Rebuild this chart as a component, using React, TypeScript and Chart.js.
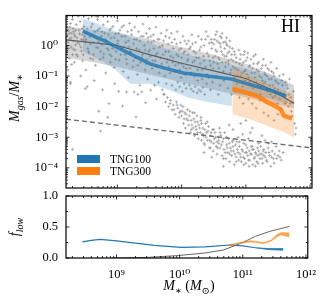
import React, { useEffect, useRef } from 'react';
import { Chart, registerables } from 'chart.js';
Chart.register(...registerables);

const SERIF = "'Liberation Serif', 'DejaVu Serif', serif";

// ---- axes (log10 where noted) ----
const xRangeLog = [8.2, 12.03];
const yRangeLog = [-4.66, 0.98];
const xTickLogs = [9, 10, 11, 12];
const xTickLabels = ['10⁹', '10¹⁰', '10¹¹', '10¹²'];
const yTickLogs = [-4, -3, -2, -1, 0];
const yTickLabels = ['10⁻⁴', '10⁻³', '10⁻²', '10⁻¹', '10⁰'];
const fTicks = [0, 0.5, 1];
const fTickLabels = ['0.0', '0.5', '1.0'];
const fMinorTicks = [0.25, 0.75];

// ---- scatter: [log10 M*, log10 Mgas/M*] ----
const scatterUpper: [number, number][] = [
  [8.21,0.62],[8.22,0.35],[8.23,0.1],[8.22,-0.2],[8.24,0.48],[8.25,-0.42],[8.26,0.22],[8.27,0.72],[8.28,-0.05],[8.29,0.4],[8.3,-0.3],[8.31,0.55],[8.32,0.15],[8.33,-0.55],[8.34,0.3],[8.35,0.02],[8.23,-0.8],[8.27,-1.2],[8.3,0.85],[8.34,-0.15],[8.26,0.6],[8.32,0.45],[8.29,-0.62],[8.36,0.68],
  [8.37,0.25],[8.38,-0.35],[8.4,0.5],[8.41,0.05],[8.42,0.78],[8.44,-0.18],[8.45,0.35],[8.46,-0.5],[8.48,0.62],[8.5,0.12],[8.51,-0.8],[8.52,0.42],[8.54,-0.1],[8.55,0.88],[8.57,0.28],[8.58,-0.42],[8.59,0.6],[8.43,-1.0],[8.53,-1.35],[8.39,0.95],[8.47,0.18],[8.56,-0.25],
  [8.61,0.7],[8.62,0.1],[8.63,-0.3],[8.65,0.45],[8.66,-0.65],[8.68,0.22],[8.69,0.85],[8.7,-0.08],[8.72,0.55],[8.73,-0.45],[8.75,0.3],[8.76,0.02],[8.78,0.68],[8.79,-0.28],[8.8,0.4],[8.82,-0.9],[8.83,0.15],[8.85,0.78],[8.86,-0.15],[8.88,0.5],[8.89,-0.55],[8.64,-1.15],[8.77,-1.45],[8.71,-2.15],[8.74,-2.8],[8.87,-1.9],[8.67,0.95],[8.3,-3.4],[8.85,-2.35],[8.27,-1.25],[8.5,-1.41],
  [8.9,0.25],[8.91,-0.35],[8.93,0.62],[8.94,0.0],[8.95,-0.72],[8.97,0.38],[8.98,-0.2],[9.0,0.8],[9.01,0.15],[9.03,-0.48],[9.04,0.5],[9.06,-0.1],[9.07,0.3],[9.09,-0.85],[9.1,0.65],[9.12,-0.3],[9.13,0.1],[9.15,-0.6],[9.16,0.45],[9.18,-0.05],[9.19,0.72],[9.02,-1.5],[9.08,-1.98],[9.14,-1.52],[8.96,-1.25],[9.17,-1.05],
  [9.21,-0.25],[9.22,0.35],[9.24,-0.7],[9.25,0.05],[9.27,0.6],[9.28,-0.4],[9.3,0.2],[9.31,-0.95],[9.33,0.45],[9.34,-0.15],[9.36,-0.55],[9.37,0.3],[9.39,-0.3],[9.4,0.7],[9.42,0.0],[9.43,-0.8],[9.45,0.4],[9.46,-0.45],[9.48,0.12],[9.49,-0.2],[9.26,-1.52],[9.32,-1.6],[9.38,-1.52],[9.44,-1.87],[9.29,-2.34],[9.35,-1.3],[9.47,-1.1],
  [9.5,0.55],[9.51,-0.35],[9.53,0.1],[9.54,-0.75],[9.56,0.35],[9.57,-0.1],[9.59,-0.5],[9.6,0.6],[9.62,-0.25],[9.63,0.2],[9.65,-0.9],[9.66,-0.05],[9.68,0.4],[9.69,-0.6],[9.71,-0.3],[9.72,0.15],[9.74,-1.0],[9.75,-0.2],[9.77,0.5],[9.78,-0.45],[9.79,0.05],[9.52,-1.46],[9.58,-1.3],[9.64,-1.2],[9.7,-1.45],[9.76,-1.25],[9.61,-1.75],[9.73,-1.6],
  [9.8,-0.7],[9.81,0.25],[9.83,-0.35],[9.84,0.4],[9.86,-0.55],[9.87,-0.1],[9.89,0.2],[9.9,-0.85],[9.92,-0.3],[9.93,0.45],[9.95,-0.6],[9.96,-0.15],[9.98,0.1],[9.99,-1.05],[10.0,-0.4],[10.02,0.3],[10.03,-0.7],[10.05,-0.2],[10.06,-0.95],[10.08,0.05],[10.09,-0.5],[9.85,-1.3],[9.91,-1.45],[9.97,-1.35],[10.01,-1.5],[10.04,-1.25],[10.07,-1.4],[9.94,-1.2],
  [10.1,-0.3],[10.11,0.15],[10.13,-0.75],[10.14,-0.05],[10.16,0.35],[10.17,-0.55],[10.19,-0.2],[10.2,-1.0],[10.22,0.1],[10.23,-0.4],[10.25,-0.8],[10.26,0.3],[10.28,-0.15],[10.29,-0.6],[10.31,0.2],[10.32,-1.1],[10.34,-0.35],[10.35,0.0],[10.37,-0.7],[10.38,0.45],[10.12,-1.3],[10.15,-1.42],[10.18,-1.5],[10.21,-1.35],[10.24,-1.55],[10.27,-1.45],[10.3,-1.5],[10.33,-1.38],[10.36,-1.6],[10.39,-1.25],
  [10.4,-0.25],[10.41,0.3],[10.43,0.08],[10.44,-0.5],[10.46,0.2],[10.47,-0.1],[10.49,-0.75],[10.5,0.05],[10.52,-0.35],[10.53,0.35],[10.55,-0.2],[10.56,-0.6],[10.58,0.1],[10.59,-0.45],[10.61,-0.05],[10.62,0.25],[10.64,-0.3],[10.65,-0.85],[10.67,-0.1],[10.68,0.12],[10.69,-0.55],[10.42,-1.05],[10.48,-1.2],[10.54,-1.0],[10.6,-1.3],[10.66,-1.15],[10.45,-1.45],[10.57,-1.6],[10.63,0.4],
  [10.7,-0.35],[10.71,0.0],[10.73,-0.6],[10.74,-0.2],[10.76,-0.9],[10.77,-0.45],[10.79,-0.1],[10.8,-0.7],[10.82,-1.05],[10.83,-0.3],[10.85,-0.55],[10.86,-1.25],[10.88,-0.8],[10.89,-0.15],[10.91,-0.45],[10.92,-1.0],[10.94,-0.65],[10.95,-1.35],[10.97,-0.3],[10.98,-0.85],[10.99,-1.15],[10.72,-1.4],[10.78,-1.6],[10.84,-1.5],[10.9,-1.7],[10.96,-1.9],
  [11.0,-0.5],[11.02,-0.95],[11.03,-0.25],[11.05,-0.7],[11.06,-1.2],[11.08,-0.45],[11.09,-0.9],[11.11,-1.4],[11.12,-0.6],[11.14,-1.05],[11.15,-0.3],[11.17,-0.8],[11.18,-1.3],[11.2,-0.55],[11.21,-1.0],[11.23,-1.6],[11.24,-0.75],[11.26,-1.15],[11.27,-0.45],[11.29,-0.9],[11.04,-1.75],[11.1,-1.9],[11.16,-2.05],[11.22,-1.8],[11.28,-2.2],
  [11.3,-1.2],[11.31,-0.65],[11.33,-1.0],[11.34,-1.5],[11.36,-0.8],[11.37,-1.3],[11.39,-0.55],[11.4,-1.1],[11.42,-1.7],[11.43,-0.9],[11.45,-1.4],[11.46,-1.15],[11.48,-0.75],[11.49,-1.9],[11.51,-1.25],[11.52,-1.0],[11.54,-1.55],[11.55,-2.1],[11.57,-1.3],[11.58,-0.95],[11.35,-2.3],[11.44,-2.45],[11.5,-2.25],
  [11.6,-1.6],[11.62,-1.2],[11.63,-1.85],[11.65,-1.4],[11.66,-2.0],[11.68,-1.1],[11.7,-1.7],[11.72,-2.3],[11.74,-1.5],[11.76,-2.55],[11.78,-2.7],[11.77,-2.9],[11.71,-2.15]
];

const scatterUpperCore: [number, number][] = [
  [8.21,0.15],[8.24,-0.1],[8.26,0.4],[8.28,0.25],[8.31,-0.12],[8.33,0.35],[8.36,-0.3],[8.38,0.1],[8.41,0.38],[8.43,-0.05],[8.45,0.55],[8.47,-0.3],[8.49,0.3],[8.22,0.52],[8.35,0.5],[8.44,0.2],
  [8.51,0.2],[8.53,0.55],[8.55,-0.2],[8.58,0.05],[8.6,0.35],[8.62,-0.45],[8.64,0.28],[8.67,-0.05],[8.69,0.5],[8.71,0.12],[8.74,-0.2],[8.76,0.45],[8.78,-0.4],[8.81,0.2],[8.84,-0.1],[8.86,0.35],[8.88,-0.3],[8.9,0.55],[8.93,-0.1],[8.95,0.25],[8.97,-0.45],
  [9.0,0.05],[9.02,0.4],[9.05,-0.3],[9.07,0.6],[9.1,-0.05],[9.12,0.3],[9.14,-0.45],[9.17,0.15],[9.2,-0.2],[9.22,0.5],[9.25,-0.5],[9.27,0.2],[9.3,-0.1],[9.32,-0.65],[9.35,0.15],[9.38,-0.4],[9.4,0.3],[9.43,-0.15],[9.45,-0.6],[9.48,0.25],
  [9.5,-0.15],[9.52,0.3],[9.55,-0.5],[9.57,0.15],[9.6,-0.3],[9.62,-0.7],[9.65,0.2],[9.67,-0.4],[9.7,0.0],[9.72,-0.75],[9.75,0.3],[9.77,-0.55],[9.8,-0.2],[9.82,-0.9],[9.85,0.1],[9.87,-0.4],[9.9,-0.65],[9.92,0.05],[9.95,-0.35],[9.97,-0.8],[9.99,-0.1],
  [10.0,-0.6],[10.03,-0.25],[10.05,0.15],[10.07,-0.75],[10.1,-0.45],[10.12,-0.1],[10.15,-0.9],[10.17,0.05],[10.2,-0.5],[10.22,-0.25],[10.25,-1.15],[10.27,-0.4],[10.3,-0.05],[10.32,-0.8],[10.35,-0.5],[10.37,0.2],[10.4,-0.95],[10.42,-0.35],[10.45,-0.65],[10.47,0.1],[10.49,-0.4],
  [10.5,-0.55],[10.51,0.2],[10.53,-0.15],[10.55,0.15],[10.57,-0.4],[10.58,-0.75],[10.6,0.05],[10.62,-0.2],[10.63,-0.55],[10.65,0.1],[10.67,-0.35],[10.68,-0.7],[10.7,0.05],[10.72,-0.25],[10.73,-0.5],[10.75,-0.05],[10.77,-0.8],[10.78,-0.3],[10.8,-0.5],[10.82,-0.2],[10.84,-0.75],[10.85,-0.4],[10.87,-1.0],[10.9,-0.6],[10.92,-0.3],[10.94,-0.9],[10.96,-0.55],[10.98,-0.2],[10.55,0.45],[10.6,0.3],[10.7,0.25],[10.75,0.15],
  [11.0,-0.8],[11.02,-0.4],[11.04,-1.05],[11.06,-0.65],[11.08,-1.3],[11.1,-0.75],[11.12,-0.35],[11.14,-0.9],[11.16,-1.2],[11.18,-0.6],[11.2,-0.85],[11.22,-1.35],[11.24,-1.05],[11.26,-0.65],[11.28,-1.25],[11.3,-0.95],[11.32,-1.45],[11.34,-0.75],[11.36,-1.1],[11.38,-1.6],[11.4,-0.85],[11.42,-1.3],[11.44,-1.0],[11.46,-1.65],[11.48,-1.2],
  [11.5,-1.45],[11.53,-1.75],[11.56,-1.15],[11.59,-1.6],[11.61,-1.9],[11.64,-1.3],[11.67,-1.6],[11.69,-1.9],[11.73,-1.85]
];

const scatterLower: [number, number][] = [
  [9.72,-1.6],[9.75,-1.85],[9.78,-1.7],[9.8,-2.0],[9.83,-1.8],[9.85,-2.1],[9.87,-1.95],[9.9,-2.25],[9.92,-1.85],[9.94,-2.05],[9.96,-2.35],[9.98,-2.15],[9.99,-1.95],
  [10.0,-2.3],[10.02,-2.0],[10.03,-2.55],[10.05,-2.2],[10.06,-2.7],[10.08,-2.4],[10.09,-2.1],[10.11,-2.6],[10.12,-2.3],[10.14,-2.85],[10.15,-2.45],[10.17,-2.2],[10.18,-2.7],[10.2,-2.95],[10.21,-2.5],[10.23,-2.75],[10.24,-2.3],[10.26,-3.05],[10.27,-2.6],[10.29,-2.85],
  [10.3,-2.45],[10.31,-3.1],[10.33,-2.7],[10.34,-2.95],[10.36,-3.25],[10.37,-2.55],[10.39,-2.85],[10.4,-3.1],[10.42,-2.65],[10.43,-3.35],[10.45,-2.95],[10.46,-3.15],[10.48,-2.75],[10.49,-3.45],[10.51,-3.05],[10.52,-2.85],[10.54,-3.3],[10.55,-3.55],[10.57,-3.0],[10.58,-3.2],[10.59,-2.7],[10.35,-3.5],[10.47,-3.65],
  [10.6,-3.35],[10.61,-2.95],[10.63,-3.6],[10.64,-3.15],[10.66,-3.4],[10.67,-2.85],[10.69,-3.7],[10.7,-3.25],[10.72,-3.5],[10.73,-3.05],[10.75,-3.8],[10.76,-3.35],[10.78,-3.6],[10.79,-3.15],[10.81,-3.45],[10.82,-3.9],[10.84,-3.25],[10.85,-3.65],[10.87,-3.4],[10.88,-3.0],[10.89,-3.75],[10.65,-3.95],[10.74,-2.6],[10.8,-2.75],
  [10.9,-3.3],[10.91,-3.55],[10.93,-3.8],[10.94,-3.4],[10.96,-3.65],[10.97,-3.2],[10.99,-3.5],[11.0,-3.85],[11.02,-3.35],[11.03,-3.6],[11.05,-3.45],[11.06,-3.75],[11.08,-3.3],[11.09,-3.55],[11.11,-3.9],[11.12,-3.4],[11.14,-3.65],[11.15,-3.5],[11.17,-3.8],[11.18,-3.35],[11.19,-3.6],[10.95,-2.9],[11.04,-3.05],[11.1,-2.7],[10.92,-2.55],[11.0,-2.45],[11.07,-2.85],
  [11.2,-3.45],[11.22,-3.7],[11.23,-3.3],[11.25,-3.55],[11.26,-3.85],[11.28,-3.4],[11.3,-3.65],[11.31,-3.5],[11.33,-3.8],[11.35,-3.35],[11.37,-3.6],[11.39,-3.95],[11.41,-3.45],[11.43,-3.7],[11.45,-3.55],[11.47,-3.3],[11.5,-3.6],[11.52,-3.45],[11.55,-3.75],[11.58,-3.5],[11.3,-3.1],[11.4,-3.15],[11.35,-3.2],[11.25,-2.95]
];

const scatterLowerCore: [number, number][] = [
  [9.82,-1.9],[9.88,-2.1],[9.93,-1.95],[9.97,-2.2],[10.01,-2.15],[10.04,-2.4],[10.07,-2.25],[10.1,-2.45],[10.13,-2.15],[10.16,-2.6],[10.19,-2.4],[10.22,-2.65],[10.25,-2.5],[10.28,-2.7],[10.31,-2.55],[10.33,-2.9],[10.36,-2.75],[10.38,-3.0],[10.41,-2.8],[10.44,-3.1],[10.46,-2.85],[10.5,-3.2],[10.53,-3.0],[10.56,-3.35],[10.58,-3.1],[10.62,-3.25],[10.65,-3.05],[10.68,-3.5],[10.71,-3.35],[10.74,-3.2],[10.77,-3.45],[10.8,-3.3],[10.83,-3.55],[10.86,-3.15],[10.88,-3.5],[10.92,-3.65],[10.95,-3.45],[10.98,-3.7],[11.01,-3.5],[11.04,-3.75],[11.07,-3.55],[11.1,-3.4],[11.13,-3.7],[11.16,-3.55],[11.19,-3.85],[11.22,-3.55],[11.25,-3.7],[11.28,-3.6],[11.32,-3.75],[11.36,-3.5],[11.4,-3.65],[11.44,-3.85],[11.48,-3.7],[11.53,-3.65],
  [10.2,-2.2],[10.3,-2.35],[10.4,-2.5],[10.5,-2.75],[10.6,-2.85],[10.7,-3.0],[10.8,-3.1],[10.9,-3.15],[11.0,-3.25],[11.1,-3.3],[11.2,-3.2],[10.15,-2.75],[10.25,-2.85],[10.35,-3.2],[10.45,-3.35],[10.55,-3.15],[10.65,-3.7],[10.75,-3.55],[10.85,-3.8],[10.97,-3.9],[11.05,-3.95],[11.15,-3.95],[11.27,-3.45]
];

// ---- all-galaxy (gray) median and band ----
const grayX = [8.2, 8.5, 9.0, 9.5, 10.0, 10.5, 11.0, 11.4, 11.75];
const grayMed = [0.18, 0.12, 0.0, -0.3, -0.58, -0.83, -1.08, -1.45, -1.9];
const grayHi = [0.62, 0.55, 0.42, 0.2, -0.05, -0.3, -0.6, -0.95, -1.3];
const grayLo = [-0.4, -0.5, -0.7, -0.95, -1.2, -1.45, -1.7, -1.9, -2.05];

// ---- TNG100 ----
const blueX = [8.46, 8.8, 9.09, 9.3, 9.51, 9.75, 10.03, 10.4, 10.78, 11.1, 11.4, 11.63];
const blueMed = [0.47, 0.15, -0.16, -0.38, -0.6, -0.75, -0.9, -1.0, -1.1, -1.3, -1.48, -1.66];
const blueBandX = [8.46, 8.7, 8.95, 9.2, 9.5, 9.8, 10.1, 10.4, 10.78, 10.785, 11.1, 11.4, 11.63];
const blueHi = [0.88, 0.7, 0.48, 0.28, 0.08, -0.12, -0.3, -0.45, -0.63, -0.63, -0.82, -1.0, -1.18];
const blueLo = [-0.2, -0.45, -0.75, -1.25, -1.25, -1.45, -1.7, -1.85, -1.98, -1.55, -1.65, -1.75, -1.9];

// ---- TNG300 ----
const orangeX = [10.79, 11.05, 11.2, 11.31, 11.41, 11.54, 11.59, 11.72];
const orangeMed = [-1.41, -1.57, -1.67, -1.83, -1.93, -2.08, -2.29, -2.39];
const orangeBandX = [10.79, 11.05, 11.3, 11.55, 11.75];
const orangeHi = [-0.69, -0.95, -1.22, -1.45, -1.6];
const orangeLo = [-2.24, -2.4, -2.6, -2.8, -3.0];

// ---- dashed reference line ----
const dashX = [8.2, 12.03];
const dashY = [-2.41, -3.35];

// ---- lower panel f_low ----
const fBlueX = [8.46, 8.6, 8.74, 9.0, 9.3, 9.6, 10.03, 10.4, 10.8, 11.0, 11.2, 11.4, 11.64];
const fBlue = [0.26, 0.285, 0.3, 0.275, 0.24, 0.205, 0.17, 0.18, 0.21, 0.195, 0.165, 0.145, 0.14];
const fBlueErrX = [11.2, 11.4, 11.64];
const fBlueHi = [0.17, 0.16, 0.16];
const fBlueLo = [0.16, 0.13, 0.115];
const fGrayX = [8.92, 9.5, 9.98, 10.4, 10.7, 11.0, 11.2, 11.43, 11.74];
const fGray = [0.0, 0.01, 0.04, 0.08, 0.13, 0.25, 0.35, 0.43, 0.51];
const fOrX = [10.78, 10.95, 11.12, 11.22, 11.33, 11.45, 11.53, 11.6, 11.74];
const fOrHi = [0.22, 0.255, 0.285, 0.27, 0.255, 0.295, 0.375, 0.415, 0.41];
const fOrLo = [0.195, 0.225, 0.255, 0.24, 0.225, 0.265, 0.325, 0.365, 0.335];

const BLUE = '#1f77b4';
const ORANGE = '#ff7f0e';

const logPts = (xs: number[], ys: number[]) => xs.map((m, i) => ({ x: Math.pow(10, m), y: Math.pow(10, ys[i]) }));
const linPts = (xs: number[], ys: number[]) => xs.map((m, i) => ({ x: Math.pow(10, m), y: ys[i] }));
const pairPts = (ps: [number, number][]) => ps.map(([m, r]) => ({ x: Math.pow(10, m), y: Math.pow(10, r) }));

function logMinors(lo: number, hi: number) {
  const out: number[] = [];
  for (let d = Math.floor(lo); d <= Math.ceil(hi); d++) {
    for (let k = 2; k <= 9; k++) {
      const v = k * Math.pow(10, d);
      if (Math.log10(v) >= lo && Math.log10(v) <= hi) out.push(v);
    }
  }
  return out;
}

const line = (data: any, color: string, width: number, order: number, extra: any = {}) => ({
  data, borderColor: color, borderWidth: width, pointRadius: 0, fill: false, order, tension: 0, ...extra,
});
const bandUp = (data: any, color: string, order: number) => ({
  data, borderWidth: 0, borderColor: 'rgba(0,0,0,0)', backgroundColor: color, pointRadius: 0, fill: '+1', order, tension: 0,
});
const bandLo = (data: any, order: number) => ({
  data, borderWidth: 0, borderColor: 'rgba(0,0,0,0)', pointRadius: 0, fill: false, order, tension: 0,
});

type Part = { t: string; it?: boolean; sub?: boolean };
function drawMath(ctx: CanvasRenderingContext2D, parts: Part[], size: number) {
  const fontFor = (p: Part) => `${p.it ? 'italic ' : ''}${p.sub ? Math.round(size * 0.7) : size}px ${SERIF}`;
  const widths = parts.map((p) => { ctx.font = fontFor(p); return ctx.measureText(p.t).width; });
  const total = widths.reduce((a, b) => a + b, 0);
  let x = -total / 2;
  ctx.textBaseline = 'alphabetic';
  ctx.textAlign = 'left';
  parts.forEach((p, i) => {
    ctx.font = fontFor(p);
    ctx.fillText(p.t, x, p.sub ? size * 0.28 : 0);
    x += widths[i];
  });
}

function drawFrame(chart: any, xMaj: number[], xMin: number[], yMaj: number[], yMin: number[]) {
  const { ctx, chartArea: a } = chart;
  const sx = chart.scales.x, sy = chart.scales.y;
  ctx.save();
  ctx.strokeStyle = '#000';
  ctx.lineWidth = 0.8;
  const vt = (vals: number[], len: number) => vals.forEach((v) => {
    const p = sx.getPixelForValue(v);
    if (p < a.left - 0.5 || p > a.right + 0.5) return;
    ctx.beginPath();
    ctx.moveTo(p, a.bottom); ctx.lineTo(p, a.bottom - len);
    ctx.moveTo(p, a.top); ctx.lineTo(p, a.top + len);
    ctx.stroke();
  });
  const ht = (vals: number[], len: number) => vals.forEach((v) => {
    const p = sy.getPixelForValue(v);
    if (p < a.top - 0.5 || p > a.bottom + 0.5) return;
    ctx.beginPath();
    ctx.moveTo(a.left, p); ctx.lineTo(a.left + len, p);
    ctx.moveTo(a.right, p); ctx.lineTo(a.right - len, p);
    ctx.stroke();
  });
  vt(xMaj, 3.5); vt(xMin, 2);
  ht(yMaj, 3.5); ht(yMin, 2);
  ctx.lineWidth = 1.2;
  ctx.strokeRect(a.left, a.top, a.right - a.left, a.bottom - a.top);
  ctx.restore();
}

const xMajVals = xTickLogs.map((v) => Math.pow(10, v));
const xMinVals = logMinors(xRangeLog[0], xRangeLog[1]);
const yMajVals = yTickLogs.map((v) => Math.pow(10, v));
const yMinVals = logMinors(yRangeLog[0], yRangeLog[1]);

export default function App() {
  const topRef = useRef<HTMLCanvasElement>(null);
  const botRef = useRef<HTMLCanvasElement>(null);

  useEffect(() => {
    const tickFont = { family: SERIF, size: 12.5 };
    const allScatter = scatterUpper.concat(scatterUpperCore, scatterLower, scatterLowerCore);

    const topChart = new Chart(topRef.current!, {
      type: 'line',
      data: {
        datasets: [
          { data: pairPts(allScatter), showLine: false, pointStyle: 'cross', pointRadius: 1.5,
            pointBorderWidth: 0.8, pointBorderColor: '#a0a0a0', borderColor: '#a0a0a0', order: 10 } as any,
          line(logPts(dashX, dashY), '#707070', 1.4, 9, { borderDash: [5, 3] }),
          bandUp(logPts(grayX, grayHi), 'rgba(128,128,128,0.32)', 8),
          bandLo(logPts(grayX, grayLo), 8),
          bandUp(logPts(blueBandX, blueHi), 'rgba(31,119,180,0.22)', 7),
          bandLo(logPts(blueBandX, blueLo), 7),
          bandUp(logPts(orangeBandX, orangeHi), 'rgba(255,127,14,0.25)', 6),
          bandLo(logPts(orangeBandX, orangeLo), 6),
          line(logPts(grayX, grayMed), '#5e5e5e', 1.2, 3),
          line(logPts(blueX, blueMed), 'rgba(31,119,180,0.8)', 3.5, 2),
          line(logPts(orangeX, orangeMed), 'rgba(255,127,14,0.85)', 4.5, 1),
        ],
      },
      options: {
        animation: false,
        responsive: false,
        events: [],
        layout: { padding: { left: 0, top: 6, right: 13, bottom: 115 } },
        plugins: { legend: { display: false }, tooltip: { enabled: false } },
        scales: {
          x: { type: 'logarithmic', min: Math.pow(10, xRangeLog[0]), max: Math.pow(10, xRangeLog[1]), display: false },
          y: {
            type: 'logarithmic', min: Math.pow(10, yRangeLog[0]), max: Math.pow(10, yRangeLog[1]),
            grid: { display: false, drawTicks: false }, border: { display: false },
            afterBuildTicks: (s: any) => { s.ticks = yMajVals.map((v) => ({ value: v })); },
            afterFit: (s: any) => { s.width = 66; },
            ticks: { autoSkip: false, padding: 8, color: '#000', font: tickFont,
              callback: (_v: any, i: number) => yTickLabels[i] },
          },
        },
      },
      plugins: [{
        id: 'topDecor',
        afterDraw(chart: any) {
          drawFrame(chart, xMajVals, xMinVals, yMajVals, yMinVals);
          const ctx = chart.ctx as CanvasRenderingContext2D;
          ctx.save();
          ctx.fillStyle = '#000';
          ctx.font = `18px ${SERIF}`;
          ctx.textAlign = 'left';
          ctx.textBaseline = 'alphabetic';
          ctx.fillText('HI', 281, 32);
          // legend
          ctx.fillStyle = BLUE; ctx.fillRect(77, 155, 23, 8);
          ctx.fillStyle = ORANGE; ctx.fillRect(77, 167, 23, 8);
          ctx.fillStyle = '#000';
          ctx.font = `11.5px ${SERIF}`;
          ctx.textBaseline = 'middle';
          ctx.fillText('TNG100', 110, 159.5);
          ctx.fillText('TNG300', 110, 171.5);
          // y title
          ctx.translate(19, 98);
          ctx.rotate(-Math.PI / 2);
          drawMath(ctx, [{ t: 'M', it: true }, { t: 'gas', it: true, sub: true }, { t: '/' }, { t: 'M', it: true }, { t: '∗', sub: true }], 14);
          ctx.restore();
        },
      }],
    } as any);

    const botChart = new Chart(botRef.current!, {
      type: 'line',
      data: {
        datasets: [
          line(linPts(fGrayX, fGray), '#666666', 1, 5),
          line(linPts(fBlueX, fBlue), BLUE, 1.2, 4),
          bandUp(linPts(fBlueErrX, fBlueHi), 'rgba(31,119,180,0.8)', 3),
          bandLo(linPts(fBlueErrX, fBlueLo), 3),
          bandUp(linPts(fOrX, fOrHi), 'rgba(255,127,14,0.7)', 2),
          bandLo(linPts(fOrX, fOrLo), 2),
        ],
      },
      options: {
        animation: false,
        responsive: false,
        events: [],
        layout: { padding: { left: 0, top: 196, right: 13, bottom: 0 } },
        plugins: { legend: { display: false }, tooltip: { enabled: false } },
        scales: {
          x: {
            type: 'logarithmic', min: Math.pow(10, xRangeLog[0]), max: Math.pow(10, xRangeLog[1]),
            grid: { display: false, drawTicks: false }, border: { display: false },
            afterBuildTicks: (s: any) => { s.ticks = xMajVals.map((v) => ({ value: v })); },
            afterFit: (s: any) => { s.height = 45; },
            ticks: { autoSkip: false, maxRotation: 0, padding: 9, color: '#000', font: tickFont,
              callback: (_v: any, i: number) => xTickLabels[i] },
          },
          y: {
            type: 'linear', min: 0, max: 1,
            grid: { display: false, drawTicks: false }, border: { display: false },
            afterBuildTicks: (s: any) => { s.ticks = fTicks.map((v) => ({ value: v })); },
            afterFit: (s: any) => { s.width = 66; },
            ticks: { autoSkip: false, padding: 8, color: '#000', font: tickFont,
              callback: (_v: any, i: number) => fTickLabels[i] },
          },
        },
      },
      plugins: [{
        id: 'botDecor',
        afterDraw(chart: any) {
          drawFrame(chart, xMajVals, xMinVals, fTicks, fMinorTicks);
          const ctx = chart.ctx as CanvasRenderingContext2D;
          ctx.save();
          ctx.fillStyle = '#000';
          ctx.save();
          ctx.translate(189, 290);
          drawMath(ctx, [{ t: 'M', it: true }, { t: '∗', sub: true }, { t: ' (' }, { t: 'M', it: true }, { t: '⊙', sub: true }, { t: ')' }], 14);
          ctx.restore();
          ctx.translate(19, 227);
          ctx.rotate(-Math.PI / 2);
          drawMath(ctx, [{ t: 'f', it: true }, { t: 'low', it: true, sub: true }], 14);
          ctx.restore();
        },
      }],
    } as any);

    return () => { topChart.destroy(); botChart.destroy(); };
  }, []);

  return (
    <div style={{ position: 'fixed', left: 0, top: 0, width: 325, height: 303, background: '#fff' }}>
      <canvas ref={topRef} width={325} height={303} style={{ position: 'absolute', left: 0, top: 0 }} />
      <canvas ref={botRef} width={325} height={303} style={{ position: 'absolute', left: 0, top: 0 }} />
    </div>
  );
}
